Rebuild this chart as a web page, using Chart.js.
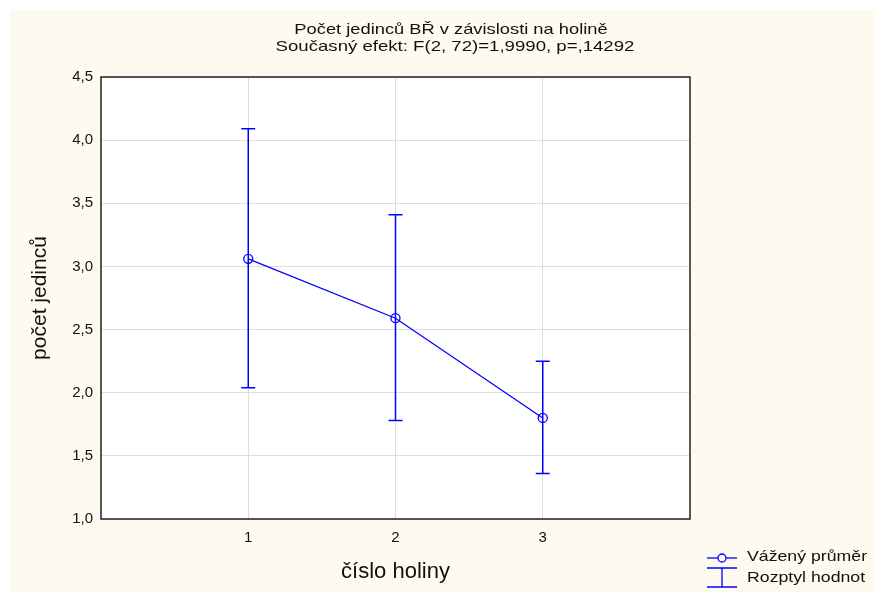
<!DOCTYPE html>
<html>
<head>
<meta charset="utf-8">
<script src="https://cdn.jsdelivr.net/npm/chart.js@4/dist/chart.umd.min.js"></script>
<style>
  body { margin: 0; background: #fff; }
</style>
</head>
<body>
<canvas id="holiny" width="875" height="592"></canvas>
<script>
// číslo holiny a průměry s rozptylem
const holiny = [1, 2, 3];
const prumer = [3.06, 2.59, 1.80];
const rozptylDolni = [2.04, 1.78, 1.36];
const rozptylHorni = [4.09, 3.41, 2.25];

const nadpis = [
  'Počet jedinců BŘ v závislosti na holině',
  'Současný efekt: F(2, 72)=1,9990, p=,14292'
];
const legenda = ['Vážený průměr', 'Rozptyl hodnot'];

const MODRA = '#0000ff';
const PISMO = "'Liberation Sans', Arial, sans-serif";

// roztažený text (nadpis, legenda)
function sirokyText(ctx, text, x, y, roztazeni, zarovnani) {
  ctx.save();
  ctx.textAlign = zarovnani;
  ctx.translate(x, y);
  ctx.scale(roztazeni, 1);
  ctx.fillText(text, 0, 0);
  ctx.restore();
}

// pozadí, bílá plocha grafu
const pozadi = {
  id: 'pozadi',
  beforeDraw(chart) {
    const ctx = chart.ctx;
    const a = chart.chartArea;
    ctx.save();
    ctx.fillStyle = '#ffffff';
    ctx.fillRect(0, 0, chart.width, chart.height);
    ctx.fillStyle = '#fffaef';
    ctx.fillRect(10, 10, chart.width - 10, chart.height - 10);
    ctx.fillStyle = '#ffffff';
    ctx.fillRect(a.left, a.top, a.right - a.left, a.bottom - a.top);
    ctx.restore();
  }
};

// chybové úsečky (rozptyl hodnot)
const chybove = {
  id: 'chybove',
  afterDatasetsDraw(chart) {
    const ctx = chart.ctx;
    const x = chart.scales.x, y = chart.scales.y;
    ctx.save();
    ctx.strokeStyle = MODRA;
    ctx.lineWidth = 1.5;
    holiny.forEach((h, i) => {
      const px = x.getPixelForValue(h);
      const top = y.getPixelForValue(rozptylHorni[i]);
      const bot = y.getPixelForValue(rozptylDolni[i]);
      ctx.beginPath();
      ctx.moveTo(px, top); ctx.lineTo(px, bot);
      ctx.moveTo(px - 7, top); ctx.lineTo(px + 7, top);
      ctx.moveTo(px - 7, bot); ctx.lineTo(px + 7, bot);
      ctx.stroke();
    });
    ctx.restore();
  }
};

// rámeček, nadpis a legenda
const popisky = {
  id: 'popisky',
  afterDraw(chart) {
    const ctx = chart.ctx;
    const a = chart.chartArea;
    ctx.save();
    ctx.strokeStyle = '#222';
    ctx.lineWidth = 1.5;
    ctx.strokeRect(a.left, a.top, a.right - a.left, a.bottom - a.top);

    ctx.fillStyle = '#111';
    ctx.font = '15px ' + PISMO;
    ctx.textBaseline = 'middle';
    sirokyText(ctx, nadpis[0], 451, 30, 1.22, 'center');
    sirokyText(ctx, nadpis[1], 455, 47, 1.24, 'center');

    // legenda
    ctx.strokeStyle = MODRA;
    ctx.lineWidth = 1.3;
    ctx.beginPath();
    ctx.moveTo(707, 558); ctx.lineTo(737, 558);
    ctx.stroke();
    ctx.fillStyle = '#fffaef';
    ctx.beginPath();
    ctx.arc(722, 558, 4, 0, Math.PI * 2);
    ctx.fill();
    ctx.stroke();
    ctx.beginPath();
    ctx.moveTo(707, 568); ctx.lineTo(737, 568);
    ctx.moveTo(722, 568); ctx.lineTo(722, 587);
    ctx.moveTo(707, 587); ctx.lineTo(737, 587);
    ctx.stroke();

    ctx.fillStyle = '#111';
    sirokyText(ctx, legenda[0], 747, 557, 1.18, 'left');
    sirokyText(ctx, legenda[1], 747, 578, 1.18, 'left');
    ctx.restore();
  }
};

const config = {
  type: 'line',
  data: {
    datasets: [{
      label: legenda[0],
      data: holiny.map((h, i) => ({ x: h, y: prumer[i] })),
      borderColor: MODRA,
      borderWidth: 1.3,
      pointRadius: 4.5,
      pointBorderWidth: 1.3,
      pointBorderColor: MODRA,
      pointBackgroundColor: 'rgba(0,0,0,0)',
      tension: 0
    }]
  },
  options: {
    responsive: false,
    animation: false,
    devicePixelRatio: 1,
    layout: { padding: { left: 24, top: 77, right: 185, bottom: 3 } },
    plugins: {
      legend: { display: false },
      tooltip: { enabled: false },
      title: { display: false }
    },
    scales: {
      x: {
        type: 'linear',
        min: 0,
        max: 4,
        afterBuildTicks: s => { s.ticks = holiny.map(v => ({ value: v })); },
        afterFit: s => { s.height = 70; },
        grid: { color: '#dedede', drawTicks: false },
        border: { display: false },
        ticks: { padding: 10, color: '#111', font: { family: PISMO, size: 15 } },
        title: { display: true, text: 'číslo holiny', color: '#111', font: { family: PISMO, size: 22 } }
      },
      y: {
        min: 1,
        max: 4.5,
        afterFit: s => { s.width = 77; },
        grid: { color: '#dedede', drawTicks: false },
        border: { display: false },
        ticks: {
          stepSize: 0.5,
          padding: 8,
          color: '#111',
          font: { family: PISMO, size: 15 },
          callback: v => v.toFixed(1).replace('.', ',')
        },
        title: { display: true, text: 'počet jedinců', color: '#111', font: { family: PISMO, size: 21 } }
      }
    }
  },
  plugins: [pozadi, chybove, popisky]
};

const graf = new Chart(document.getElementById('holiny').getContext('2d'), config);
</script>
</body>
</html>
